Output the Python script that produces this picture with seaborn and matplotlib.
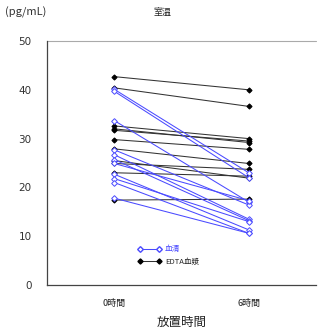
import matplotlib
matplotlib.use("Agg")
import matplotlib.pyplot as plt
import seaborn as sns
import pandas as pd
from matplotlib.lines import Line2D

# Data
times = ["0時間", "6時間"]
serum_0h = [40.1, 39.7, 33.7, 27.7, 26.7, 25.7, 24.9, 22.7, 21.8, 21.0, 17.8]
serum_6h = [23.0, 22.0, 17.0, 16.4, 13.5, 13.2, 17.3, 11.3, 13.0, 10.6, 10.6]
edta_0h = [42.7, 40.4, 32.6, 31.7, 29.8, 27.9, 32.0, 24.9, 23.0, 25.5, 17.4]
edta_6h = [40.0, 36.6, 30.0, 29.5, 27.8, 24.9, 29.2, 23.7, 22.3, 21.9, 17.6]
groups = ["血清", "EDTA血漿"]

rows = []
for g, a, b in [(groups[0], serum_0h, serum_6h), (groups[1], edta_0h, edta_6h)]:
    for i, (v0, v6) in enumerate(zip(a, b)):
        rows.append({"group": g, "id": f"{g}{i}", "t": 0, "value": v0})
        rows.append({"group": g, "id": f"{g}{i}", "t": 1, "value": v6})
df = pd.DataFrame(rows)

sns.set_style("white")
plt.rcParams["font.family"] = ["Noto Sans CJK JP", "DejaVu Sans"]

fig = plt.figure(figsize=(3.26, 3.31), dpi=100)
ax = fig.add_axes([47 / 326, 1 - 285 / 331, 269 / 326, 244 / 331])

blue = "#4a4aff"
sub_e = df[df.group == groups[1]]
sub_s = df[df.group == groups[0]]
sns.lineplot(data=sub_e, x="t", y="value", units="id", estimator=None,
             color="#333333", lw=0.75, marker="D", markersize=2.6,
             markerfacecolor="black", markeredgecolor="black", ax=ax, legend=False)
sns.lineplot(data=sub_s, x="t", y="value", units="id", estimator=None,
             color=blue, lw=0.75, marker="D", markersize=2.9,
             markerfacecolor="white", markeredgecolor=blue, markeredgewidth=0.7,
             ax=ax, legend=False)

ax.set_xlim(-0.5, 1.5)
ax.set_ylim(0, 50)
ax.set_yticks(range(0, 51, 10))
ax.set_xticks([0, 1])
ax.set_xticklabels(times, fontsize=6.5, color="#222222")
ax.set_xticks([0.5], minor=True)
ax.tick_params(axis="x", which="major", length=0, pad=10)
ax.tick_params(axis="x", which="minor", direction="in", length=3, color="#333333", width=0.8)
ax.tick_params(axis="y", direction="out", length=3, width=0.8, color="#555555",
               labelsize=7.5, labelcolor="#333333", pad=8)
for lab in ax.get_yticklabels():
    lab.set_family(["DejaVu Sans"])
for s in ["left", "bottom"]:
    ax.spines[s].set_color("#444444")
    ax.spines[s].set_linewidth(0.9)
for s in ["top", "right"]:
    ax.spines[s].set_visible(False)
ax.plot([-0.5, 1.5], [50, 50], color="#aaaaaa", lw=0.8, clip_on=False)
ax.set_xlabel("放置時間", fontsize=9, labelpad=6, color="#222222")
ax.set_ylabel("")

handles = [
    Line2D([0], [0], color=blue, lw=0.75, marker="D", markersize=2.9,
           markerfacecolor="white", markeredgecolor=blue),
    Line2D([0], [0], color="#333333", lw=0.75, marker="D", markersize=2.6,
           markerfacecolor="black", markeredgecolor="black"),
]
leg = ax.legend(handles, groups, loc="center left", bbox_to_anchor=(0.31, 0.12),
                frameon=False, numpoints=2, fontsize=5.5, handlelength=3.2,
                handletextpad=0.4, labelspacing=0.6)
leg.get_texts()[0].set_color(blue)

fig.text(0.5, 1 - 12 / 331, "室温", ha="center", va="center", fontsize=6.5, color="#222222")
fig.text(5 / 326, 1 - 12 / 331, "(pg/mL)", ha="left", va="center", fontsize=8, color="#333333")

fig.savefig("out.png", dpi=100)
